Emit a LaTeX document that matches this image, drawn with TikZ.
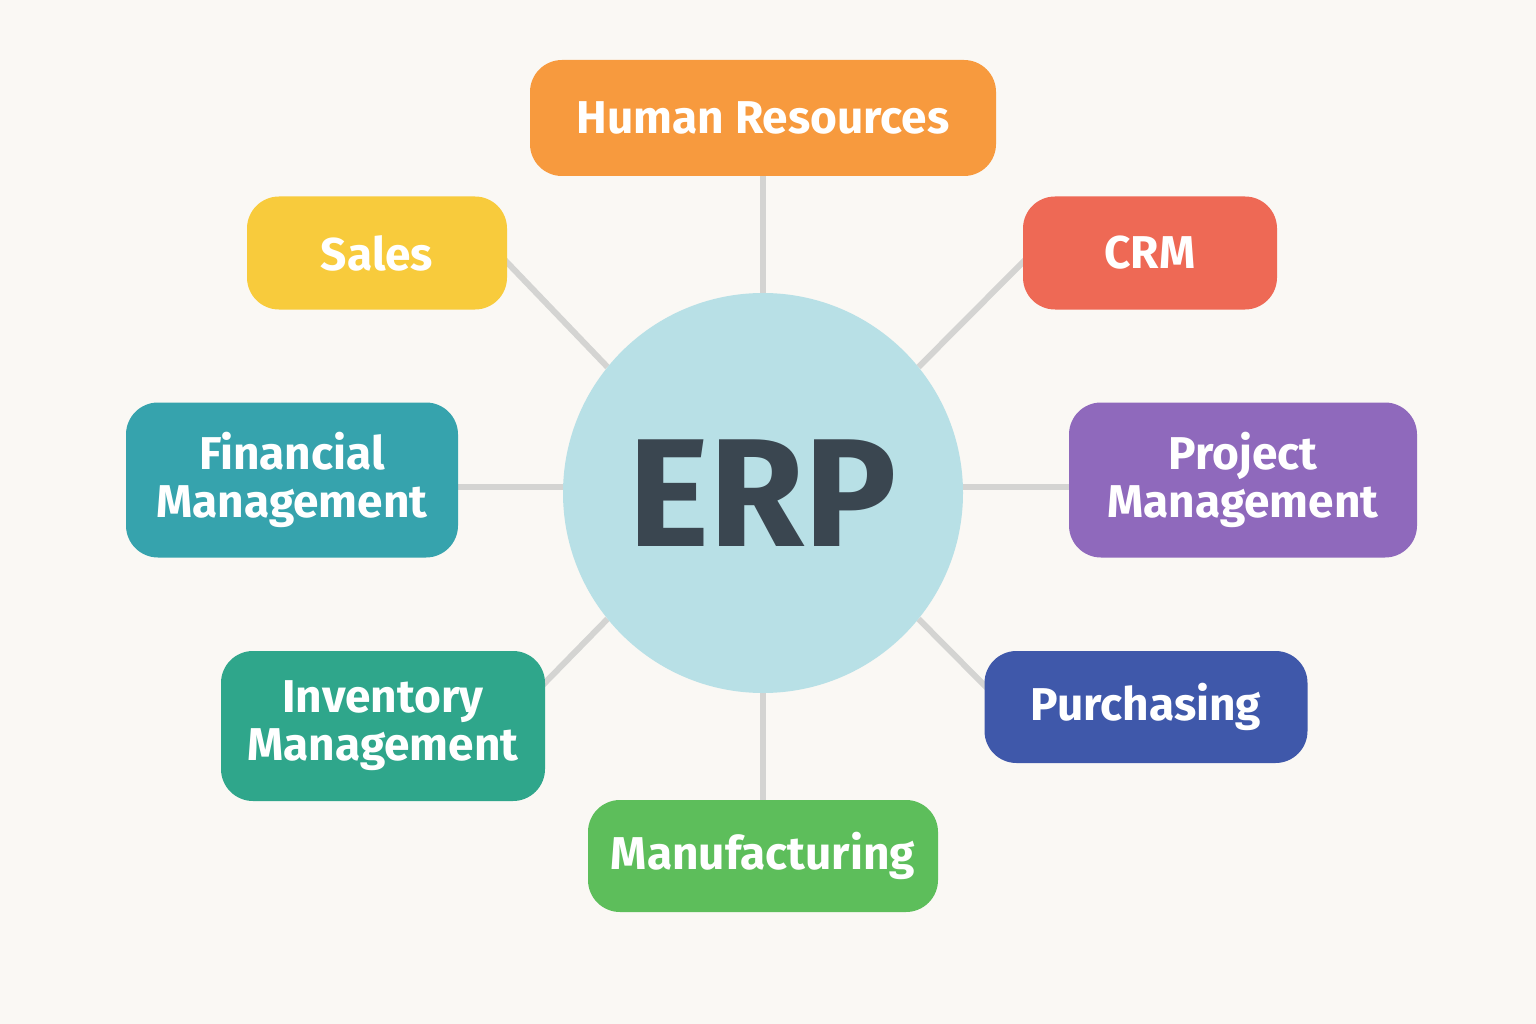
\documentclass[tikz,border=0pt]{standalone}
\usepackage{fontspec}
\setmainfont{Fira Sans}
\usetikzlibrary{backgrounds}
\definecolor{bg}{HTML}{FAF8F4}
\definecolor{hub}{HTML}{B8E0E6}
\definecolor{erptext}{HTML}{3A4650}
\definecolor{spoke}{HTML}{D4D4D2}
\definecolor{cHR}{HTML}{F79A3E}
\definecolor{cSales}{HTML}{F8CB3C}
\definecolor{cCRM}{HTML}{EE6955}
\definecolor{cFin}{HTML}{36A3AD}
\definecolor{cProj}{HTML}{8F69BC}
\definecolor{cInv}{HTML}{2FA68B}
\definecolor{cPur}{HTML}{3F58AA}
\definecolor{cMan}{HTML}{5DBE5B}
\tikzset{
  module/.style={rounded corners=32pt, inner sep=0pt, text=white, align=center,
    font=\fontsize{46}{48}\selectfont\bfseries},
  spokeline/.style={draw=spoke, line width=6pt}
}
\begin{document}
\begin{tikzpicture}[x=1pt,y=-1pt]
\useasboundingbox (0,0) rectangle (1536,1024);
\node[circle, fill=hub, minimum size=400pt, inner sep=0pt, text=erptext,
  font=\fontsize{154}{154}\selectfont\bfseries] (erp) at (763,493) {ERP};
\node[module, fill=cHR, minimum width=466pt, minimum height=116pt] (hr) at (763,118) {Human Resources};
\node[module, fill=cSales, minimum width=260pt, minimum height=113pt] (sales) at (377,253) {Sales};
\node[module, fill=cCRM, minimum width=254pt, minimum height=113pt] (crm) at (1150,253) {CRM};
\node[module, fill=cFin, minimum width=332pt, minimum height=155pt] (fin) at (292,480) {Financial\\Management};
\node[module, fill=cProj, minimum width=348pt, minimum height=155pt] (proj) at (1243,480) {Project\\Management};
\node[module, fill=cInv, minimum width=324pt, minimum height=150pt] (inv) at (383,726) {Inventory\\Management};
\node[module, fill=cPur, minimum width=323pt, minimum height=112pt] (pur) at (1146,707) {Purchasing};
\node[module, fill=cMan, minimum width=350pt, minimum height=112pt] (man) at (763,856) {Manufacturing};
\coordinate (ks) at (500,255);
\coordinate (kc) at (1030,255);
\coordinate (ki) at (535,693);
\coordinate (kp) at (992,693);
\coordinate (kf) at (440,487);
\coordinate (kj) at (1090,487);
\coordinate (kh) at (763,160);
\coordinate (km) at (763,820);
\begin{scope}[on background layer]
\fill[bg] (0,0) rectangle (1536,1024);
\draw[spokeline] (erp.center) -- (kh);
\draw[spokeline] (erp.center) -- (km);
\draw[spokeline] (erp.141) -- (ks);
\draw[spokeline] (erp.39) -- (kc);
\draw[spokeline] (erp.-141) -- (ki);
\draw[spokeline] (erp.-39) -- (kp);
\draw[spokeline] (kf) -- (kj);
\end{scope}
\end{tikzpicture}
\end{document}
